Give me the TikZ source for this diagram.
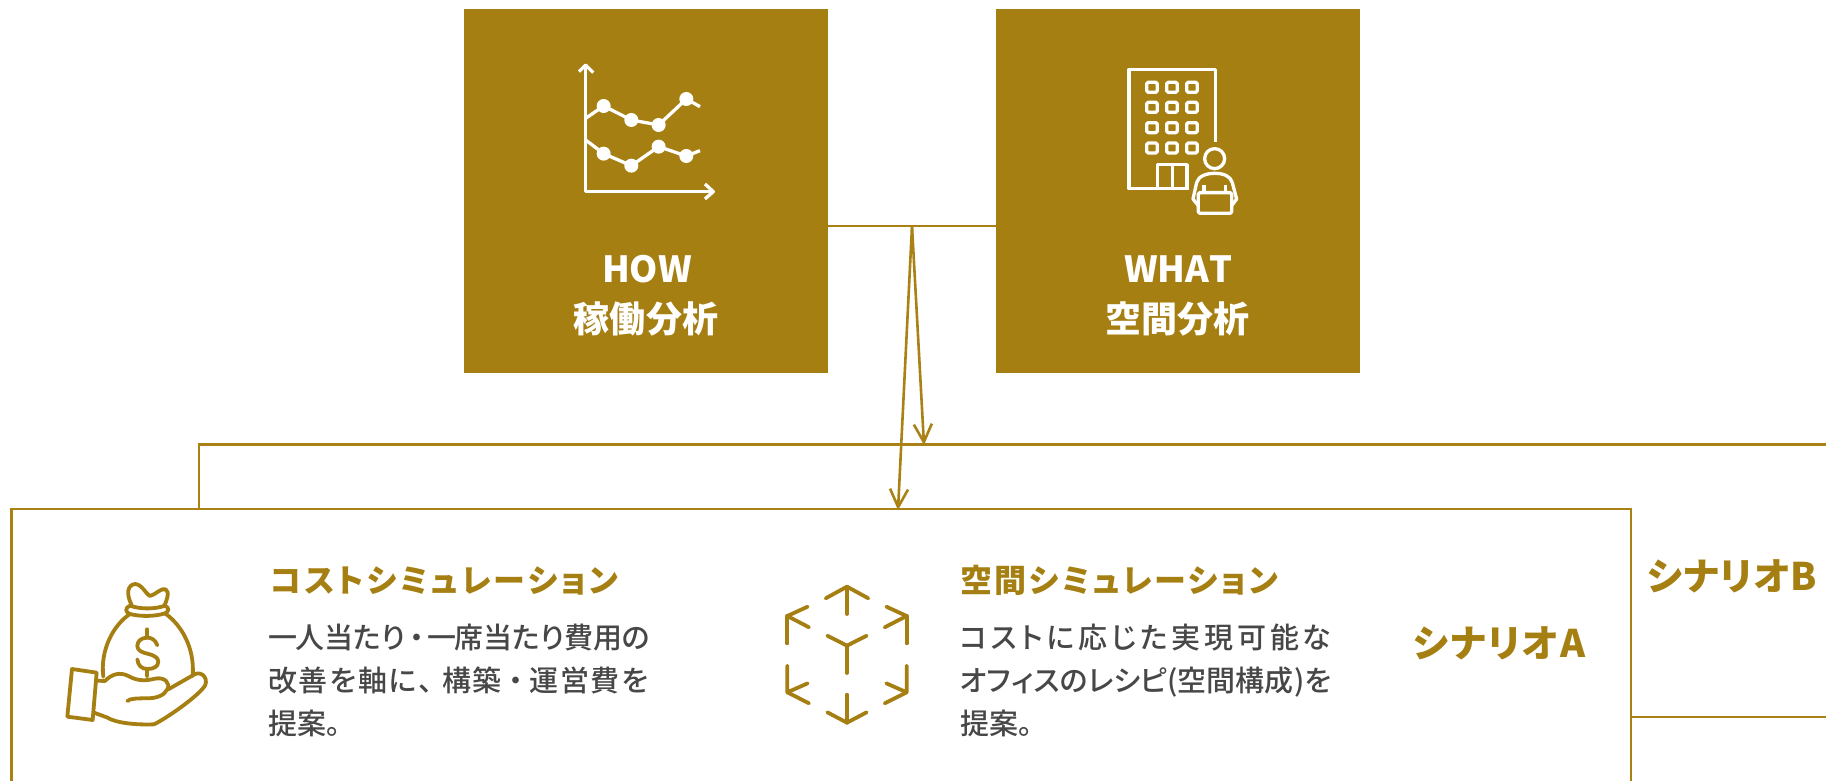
\documentclass[tikz,border=0pt]{standalone}
\usepackage{fontspec}
\usetikzlibrary{arrows.meta}
\newfontfamily\jp[RawFeature={+palt}]{Noto Sans CJK JP}
\newfontfamily\jpm[RawFeature={+palt}]{Noto Sans CJK JP Medium}
\definecolor{gold}{HTML}{A67F12}
\definecolor{goldline}{HTML}{A98115}
\definecolor{bodygray}{HTML}{474747}
\makeatletter
\newcommand\jline[2]{\hbox to #1{\let\jsep\relax\@tfor\jc:=#2\do{\jsep\jc\let\jsep\hfil}}}
\makeatother
\newcommand\fs[1]{\fontsize{#1pt}{#1pt}\selectfont}
\newcommand\fwdot{\makebox[24pt]{・}}
\newcommand\fwcomma{\makebox[22pt][l]{、}}
\newcommand\tightone{\makebox[25pt]{一}}
\tikzset{
  goldbox/.style={fill=gold,draw=none,minimum width=364pt,minimum height=364pt,inner sep=0pt},
  scenbox/.style={draw=goldline,line width=2.6pt,inner sep=0pt},
  link/.style={draw=goldline,line width=2.6pt},
  arrowlink/.style={link,-{Straight Barb[length=18pt,width=18pt,line width=2.6pt]}},
  boxlabel/.style={anchor=base,inner sep=0pt,text=white,font={\jp\bfseries}},
  scenlabel/.style={anchor=base west,inner sep=0pt,text=gold,font={\jp\bfseries}},
  headline/.style={anchor=base west,inner sep=0pt,text=gold,font={\jp\bfseries}},
  bodyline/.style={anchor=base west,inner sep=0pt,text=bodygray,font={\jpm}},
  wicon/.style={draw=white,line width=3.3pt,line join=round},
  gicon/.style={draw=gold,line width=3.8pt,line join=round,line cap=round},
}
\begin{document}
\begin{tikzpicture}[x=1pt,y=-1pt]
\useasboundingbox (0,0) rectangle (1826,781);
\clip (0,0) rectangle (1826,781);
\fill[white] (0,0) rectangle (1826,781);
% scenario frames
\node[scenbox,minimum width=1900pt,minimum height=272.5pt,anchor=north west] (scenB) at (197.5,443) {};
\node[scenbox,fill=white,minimum width=1619.5pt,minimum height=400pt,anchor=north west] (scenA) at (10,507.5) {};
% analysis boxes
\node[goldbox] (how) at (646,191) {};
\node[goldbox] (what) at (1178,191) {};
\coordinate (apex) at (912,226);
\coordinate (tipB) at (924,445);
\coordinate (tipA) at (898,510);
\draw[link] (how.east |- apex) -- (what.west |- apex);
\draw[arrowlink] (apex) -- (tipB);
\draw[arrowlink] (apex) -- (tipA);
% box labels
\node[boxlabel] (howen) at (645,282) {\fs{36}\jline{86pt}{HOW}};
\node[boxlabel] (howjp) at (646,332) {\fs{36}\jline{145pt}{稼働分析}};
\node[boxlabel] (whaten) at (1177,282) {\fs{36}\jline{106pt}{WHAT}};
\node[boxlabel] (whatjp) at (1177,332) {\fs{36}\jline{144pt}{空間分析}};
% chart icon
\begin{scope}[shift={(440,0)},x=0.3333pt,y=-0.3333pt]
\draw[wicon] (417,215) -- (437,195) -- (460,218);
\draw[wicon] (437,195) -- (437,575) -- (820,575);
\draw[wicon] (795,552) -- (820,575) -- (795,597);
\draw[wicon] (437,355) -- (491,318) -- (574,360) -- (656,375) -- (739,297) -- (780,320);
\draw[wicon] (437,420) -- (491,461) -- (574,497) -- (656,440) -- (739,468) -- (780,452);
\foreach \p in {(491,318),(574,360),(656,375),(739,297),(491,461),(574,497),(656,440),(739,468)}
  \fill[white] \p circle (7pt);
\end{scope}
% building icon
\begin{scope}[shift={(980,0)},x=0.3333pt,y=-0.3333pt]
\draw[wicon] (706,425) -- (706,208) -- (447,208) -- (447,566) -- (627,566);
\foreach \cx in {516,576,636}\foreach \cy in {262,322,383,444}
  \draw[wicon,rounded corners=1.5pt] (\cx-16,\cy-15) rectangle (\cx+16,\cy+15);
\draw[wicon] (533,566) -- (533,494) -- (621,494) -- (621,566);
\draw[wicon] (577,494) -- (577,566);
\draw[wicon] (704,476) circle (10pt);
\draw[wicon] (655,617) -- (639,597) -- (650,548) .. controls (655,528) and (680,520) .. (704,520)
  .. controls (730,520) and (752,528) .. (757,548) -- (770,597) -- (755,617);
\draw[wicon,rounded corners=1.5pt] (655,578) rectangle (755,640);
\draw[wicon] (672,555) -- (672,578);
\draw[wicon] (737,555) -- (737,578);
\end{scope}
% money bag icon
\begin{scope}[shift={(50,570)},x=0.3333pt,y=-0.3333pt]
\draw[gicon] (245,105) .. controls (228,72) and (232,45) .. (255,42)
  .. controls (275,42) and (288,72) .. (300,78)
  .. controls (315,75) and (335,52) .. (347,58)
  .. controls (360,65) and (350,95) .. (342,108);
\draw[gicon] (240,107) .. controls (225,112) and (225,128) .. (240,132)
  .. controls (270,140) and (315,140) .. (345,130)
  .. controls (358,125) and (358,112) .. (345,107)
  .. controls (315,118) and (270,118) .. (240,107);
\draw[gicon] (240,132) .. controls (190,165) and (150,240) .. (160,320);
\draw[gicon] (345,130) .. controls (395,165) and (435,235) .. (428,318);
\draw[gicon] (292,178) -- (292,202);
\draw[gicon] (322,226) .. controls (316,208) and (303,203) .. (292,203)
  .. controls (272,203) and (262,215) .. (262,228)
  .. controls (262,242) and (278,248) .. (292,251)
  .. controls (310,255) and (325,262) .. (325,275)
  .. controls (325,290) and (310,297) .. (293,297)
  .. controls (275,297) and (264,287) .. (262,268);
\draw[gicon] (292,297) -- (292,318);
\draw[gicon] (66,297) -- (140,308) -- (128,450) -- (52,440) -- cycle;
\draw[gicon] (140,332) -- (165,333) .. controls (185,312) and (210,305) .. (235,318)
  .. controls (265,335) and (290,332) .. (315,326)
  .. controls (345,320) and (362,340) .. (352,358)
  .. controls (342,378) and (318,385) .. (290,385)
  .. controls (265,385) and (240,385) .. (232,393);
\draw[gicon] (355,358) -- (425,318) .. controls (450,298) and (475,320) .. (466,345)
  .. controls (450,375) and (350,445) .. (312,463)
  .. controls (260,465) and (200,460) .. (170,442) -- (132,428);
\end{scope}
% cube icon
\begin{scope}[shift={(770,570)},x=0.3333pt,y=-0.3333pt]
\draw[gicon] (167,85) -- (231,50) -- (295,85);
\draw[gicon] (231,50) -- (231,132);
\draw[gicon] (113,110) -- (52,138) -- (117,172);
\draw[gicon] (52,138) -- (52,220);
\draw[gicon] (349,110) -- (410,138) -- (344,172);
\draw[gicon] (410,138) -- (410,220);
\draw[gicon] (172,197) -- (231,227) -- (290,197);
\draw[gicon] (231,227) -- (231,309);
\draw[gicon] (52,287) -- (52,367) -- (113,340);
\draw[gicon] (52,367) -- (117,400);
\draw[gicon] (410,287) -- (410,367) -- (349,340);
\draw[gicon] (410,367) -- (344,400);
\draw[gicon] (231,374) -- (231,458);
\draw[gicon] (172,427) -- (231,458) -- (290,427);
\end{scope}
% texts A
\node[headline] (t1) at (270,592) {\fs{32}\jline{348pt}{コストシミュレーション}};
\node[bodyline] (a1) at (270,648) {\fs{29}\jline{380pt}{\tightone 人当たり\fwdot\tightone 席当たり費用の}};
\node[bodyline] (a2) at (268,691) {\fs{29}\jline{380pt}{改善を軸に\fwcomma 構築\fwdot 運営費を}};
\node[bodyline] (a3) at (268,734) {\fs{29}提案。};
% texts B
\node[headline] (t2) at (960,592) {\fs{32}\jline{318pt}{空間シミュレーション}};
\node[bodyline] (b1) at (960,648) {\fs{29}\jline{371pt}{コストに応じた実現可能な}};
\node[bodyline] (b2) at (960,691) {\fs{29}\jline{371pt}{オフィスのレシピ(空間構成)を}};
\node[bodyline] (b3) at (960,734) {\fs{29}提案。};
% scenario labels
\node[scenlabel] (sa) at (1413,657) {\fs{38}\jline{172pt}{シナリオA}};
\node[scenlabel] (sb) at (1647,590) {\fs{38}\jline{170pt}{シナリオB}};
\end{tikzpicture}
\end{document}
